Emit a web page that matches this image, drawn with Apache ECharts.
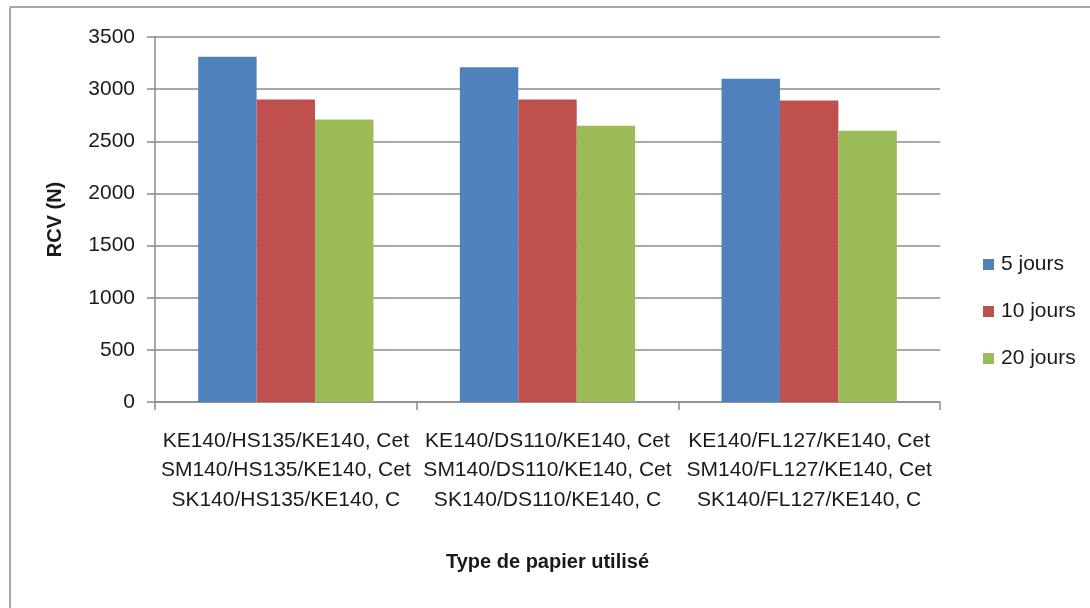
<!DOCTYPE html>
<html>
<head>
<meta charset="utf-8">
<script src="https://cdn.jsdelivr.net/npm/echarts@6/dist/echarts.min.js"></script>
<style>
  html, body { margin: 0; padding: 0; background: #fff; }
  #chart { width: 1090px; height: 608px; }
</style>
</head>
<body>
<div id="chart"></div>
<script>
// Paper combinations (one label line per entry)
const categories = [
  ['KE140/HS135/KE140, Cet', 'SM140/HS135/KE140, Cet', 'SK140/HS135/KE140, C'],
  ['KE140/DS110/KE140, Cet', 'SM140/DS110/KE140, Cet', 'SK140/DS110/KE140, C'],
  ['KE140/FL127/KE140, Cet', 'SM140/FL127/KE140, Cet', 'SK140/FL127/KE140, C']
];
const seriesNames = ['5 jours', '10 jours', '20 jours'];
const jours5 = [3310, 3210, 3100];
const jours10 = [2900, 2900, 2890];
const jours20 = [2710, 2650, 2600];
const yTicks = [0, 500, 1000, 1500, 2000, 2500, 3000, 3500];

const colors = ['#4F81BD', '#C0504D', '#9BBB59'];
const font = "'Liberation Sans', Arial, sans-serif";
const gray = '#8c8c8c';

const chart = echarts.init(document.getElementById('chart'));
const values = [jours5, jours10, jours20];

chart.setOption({
  animation: false,
  backgroundColor: '#fff',
  color: colors,
  textStyle: { fontFamily: font },
  grid: { left: 155, right: 150, top: 37, bottom: 206 },
  legend: {
    orient: 'vertical',
    left: 978,
    top: 249,
    itemWidth: 11,
    itemHeight: 11,
    itemGap: 26,
    icon: 'rect',
    data: seriesNames,
    textStyle: { fontFamily: font, fontSize: 21, color: '#1a1a1a', padding: [0, 0, 0, 2] }
  },
  xAxis: {
    type: 'category',
    data: categories.map(c => c.join('\n')),
    name: 'Type de papier utilisé',
    nameLocation: 'middle',
    nameGap: 150,
    nameTextStyle: { fontFamily: font, fontSize: 20, fontWeight: 'bold', color: '#1a1a1a' },
    axisLine: { lineStyle: { color: gray, width: 1.5 } },
    axisTick: { show: true, length: 8, lineStyle: { color: gray, width: 1.5 } },
    axisLabel: {
      interval: 0,
      margin: 24,
      fontSize: 21,
      lineHeight: 29.5,
      color: '#1a1a1a',
      fontFamily: font
    }
  },
  yAxis: {
    type: 'value',
    min: yTicks[0],
    max: yTicks[yTicks.length - 1],
    interval: 500,
    name: 'RCV (N)',
    nameLocation: 'middle',
    nameGap: 90,
    nameTextStyle: { fontFamily: font, fontSize: 20, fontWeight: 'bold', color: '#1a1a1a' },
    axisLine: { show: true, lineStyle: { color: gray, width: 1.5 } },
    axisTick: { show: true, length: 8, lineStyle: { color: gray, width: 1.5 } },
    axisLabel: {
      margin: 20,
      fontSize: 21,
      color: '#1a1a1a',
      fontFamily: font,
      formatter: v => String(v)
    },
    splitLine: { show: true, lineStyle: { color: gray, width: 1.5 } }
  },
  series: seriesNames.map((name, i) => ({
    name: name,
    type: 'bar',
    data: values[i],
    barGap: '0%',
    barCategoryGap: '33%',
    itemStyle: { color: colors[i] }
  })),
  graphic: [
    { type: 'line', shape: { x1: 10, y1: 7, x2: 10, y2: 608 }, style: { stroke: '#a6a6a6', lineWidth: 2 } },
    { type: 'line', shape: { x1: 10, y1: 7, x2: 1090, y2: 7 }, style: { stroke: '#a6a6a6', lineWidth: 2 } }
  ]
});
</script>
</body>
</html>
